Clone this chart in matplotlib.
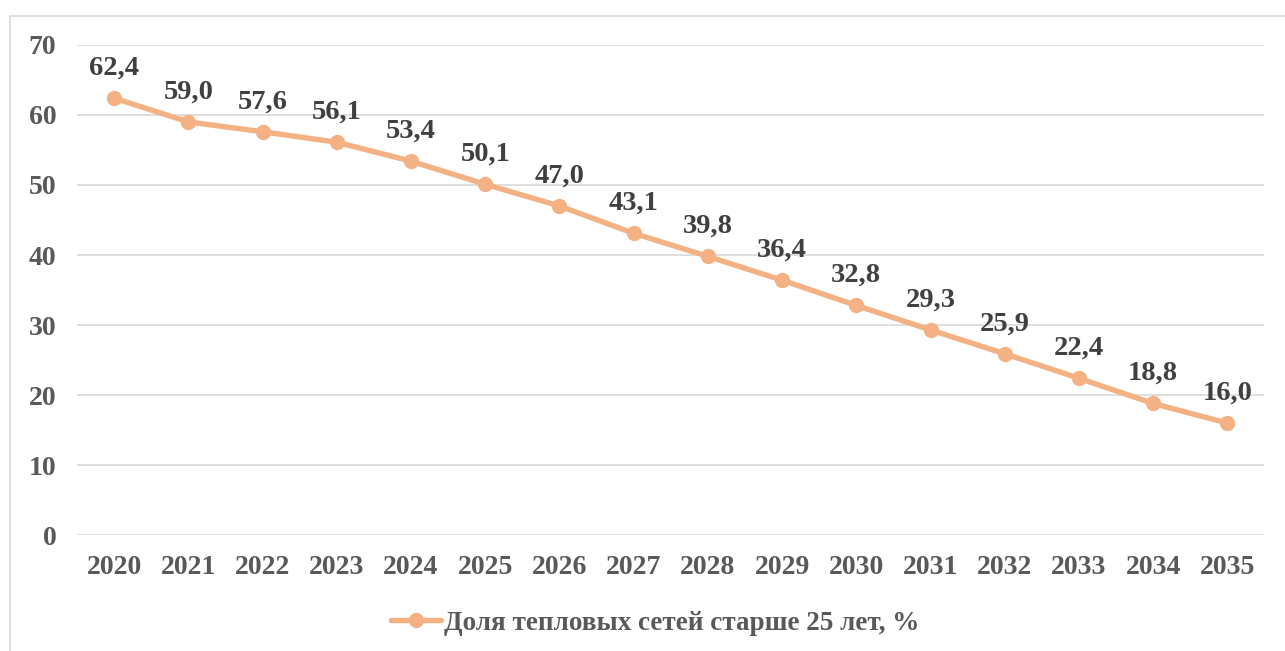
import matplotlib.pyplot as plt
from matplotlib.patches import Rectangle

plt.rcParams['font.family'] = ['Liberation Serif', 'DejaVu Serif']
plt.rcParams['font.weight'] = 'bold'

years = [2020, 2021, 2022, 2023, 2024, 2025, 2026, 2027,
         2028, 2029, 2030, 2031, 2032, 2033, 2034, 2035]
share = [62.4, 59.0, 57.6, 56.1, 53.4, 50.1, 47.0, 43.1,
         39.8, 36.4, 32.8, 29.3, 25.9, 22.4, 18.8, 16.0]
series_name = 'Доля тепловых сетей старше 25 лет, %'

line_color = '#F4B183'
text_color = '#404040'

fig = plt.figure(figsize=(12.85, 6.51), dpi=100)
fig.patches.append(Rectangle((10 / 1285, -0.1), 1.2, 1 - 16 / 651 + 0.1,
                             transform=fig.transFigure, fill=False,
                             edgecolor='#D9D9D9', linewidth=1.2))
ax = fig.add_axes([0.060, 0.178, 0.924, 0.753])

ax.plot(years, share, color=line_color, linewidth=3.9, marker='o',
        markersize=10, label=series_name, solid_capstyle='round', zorder=3)

for x, y in zip(years, share):
    ax.annotate(f'{y:.1f}'.replace('.', ','), (x, y), xytext=(0, 12.5),
                textcoords='offset points', ha='center', va='bottom',
                fontsize=20.5, fontweight='bold', color=text_color)

ax.set_xlim(2019.5, 2035.5)
ax.set_ylim(0, 70)
ax.set_xticks(years)
ax.set_yticks(range(0, 71, 10))
ax.tick_params(length=0, labelsize=20, labelcolor='#595959')
ax.tick_params(axis='x', pad=14)
ax.tick_params(axis='y', pad=15)
ax.grid(axis='y', color='#D9D9D9', linewidth=1.2)
ax.set_axisbelow(True)
for s in ax.spines.values():
    s.set_visible(False)

leg = fig.legend(loc='center', bbox_to_anchor=(0.51, 0.043), frameon=False,
                 fontsize=19.5, handlelength=1.85, handletextpad=0.1)
for t in leg.get_texts():
    t.set_color('#595959')

fig.savefig('out.png', dpi=100)
